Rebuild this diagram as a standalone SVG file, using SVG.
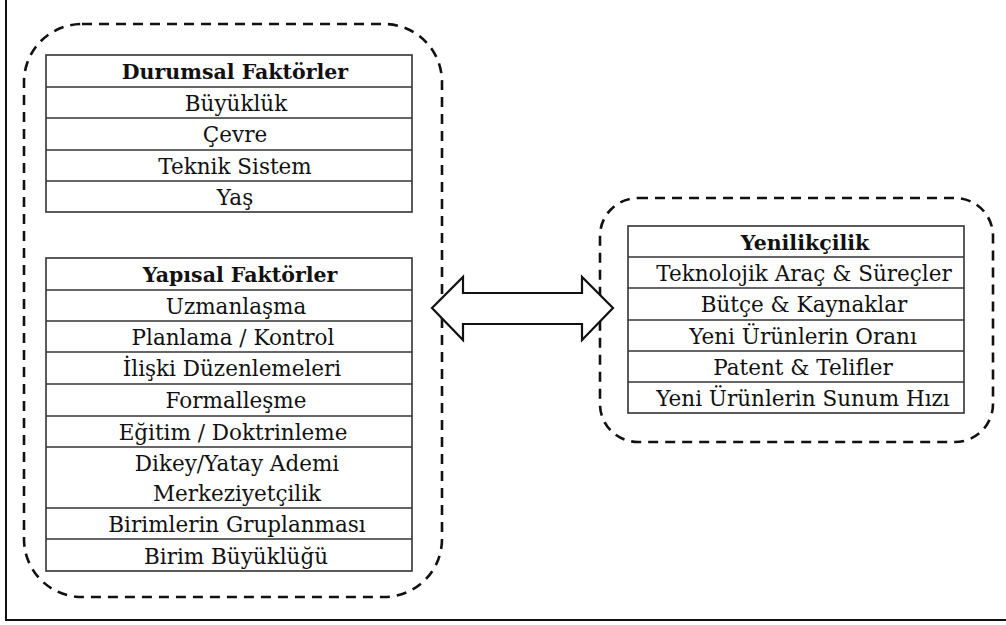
<svg xmlns="http://www.w3.org/2000/svg" width="1006" height="625" viewBox="0 0 1006 625">
<style>
.frame{fill:none;stroke:#111;stroke-width:2}
.dash{fill:none;stroke:#111;stroke-width:2.6;stroke-dasharray:10 7}
.cell{fill:#fff;stroke:#333;stroke-width:1.6}
.ln{stroke:#333;stroke-width:1.6}
.t{font-family:'DejaVu Serif','Liberation Serif',serif;font-size:21.5px;fill:#111;text-anchor:middle}
.b{font-weight:bold;font-size:20.5px}
.arrow{fill:#fff;stroke:#111;stroke-width:2.2;stroke-linejoin:miter}
</style>
<rect width="1006" height="625" fill="#fff"/>
<path class="frame" d="M6,0 V620 H1006"/>

<g id="group-left">
<rect class="dash" x="24" y="24" width="418" height="573" rx="58" ry="58"/>
</g>
<g id="group-right">
<rect class="dash" x="600" y="198" width="393" height="244" rx="38" ry="38"/>
</g>

<g id="durumsal" class="t">
<rect class="cell" x="46" y="55" width="366" height="157"/>
<line class="ln" x1="46" y1="87" x2="412" y2="87"/>
<line class="ln" x1="46" y1="118" x2="412" y2="118"/>
<line class="ln" x1="46" y1="150" x2="412" y2="150"/>
<line class="ln" x1="46" y1="181" x2="412" y2="181"/>
<text class="b" x="235" y="79">Durumsal Faktörler</text>
<text x="236" y="111">Büyüklük</text>
<text x="235" y="142">Çevre</text>
<text x="235" y="174">Teknik Sistem</text>
<text x="235" y="205">Yaş</text>
</g>

<g id="yapisal" class="t">
<rect class="cell" x="46" y="258" width="366" height="313"/>
<line class="ln" x1="46" y1="290" x2="412" y2="290"/>
<line class="ln" x1="46" y1="321" x2="412" y2="321"/>
<line class="ln" x1="46" y1="352" x2="412" y2="352"/>
<line class="ln" x1="46" y1="384" x2="412" y2="384"/>
<line class="ln" x1="46" y1="416" x2="412" y2="416"/>
<line class="ln" x1="46" y1="447" x2="412" y2="447"/>
<line class="ln" x1="46" y1="508" x2="412" y2="508"/>
<line class="ln" x1="46" y1="539" x2="412" y2="539"/>
<text class="b" x="240" y="282">Yapısal Faktörler</text>
<text x="236" y="314">Uzmanlaşma</text>
<text x="233" y="345">Planlama / Kontrol</text>
<text x="232" y="376">İlişki Düzenlemeleri</text>
<text x="236" y="408">Formalleşme</text>
<text x="233" y="440">Eğitim / Doktrinleme</text>
<text x="237" y="471">Dikey/Yatay Ademi</text>
<text x="237" y="501">Merkeziyetçilik</text>
<text x="237" y="532">Birimlerin Gruplanması</text>
<text x="236" y="564">Birim Büyüklüğü</text>
</g>

<g id="yenilikcilik" class="t">
<rect class="cell" x="628" y="226" width="336" height="187"/>
<line class="ln" x1="628" y1="257" x2="964" y2="257"/>
<line class="ln" x1="628" y1="288" x2="964" y2="288"/>
<line class="ln" x1="628" y1="320" x2="964" y2="320"/>
<line class="ln" x1="628" y1="351" x2="964" y2="351"/>
<line class="ln" x1="628" y1="382" x2="964" y2="382"/>
<text class="b" x="805" y="250">Yenilikçilik</text>
<text x="804" y="281">Teknolojik Araç &amp; Süreçler</text>
<text x="804" y="312">Bütçe &amp; Kaynaklar</text>
<text x="803" y="344">Yeni Ürünlerin Oranı</text>
<text x="803" y="375">Patent &amp; Telifler</text>
<text x="803" y="406">Yeni Ürünlerin Sunum Hızı</text>
</g>

<g id="connectors">
<polygon class="arrow" points="432,308 463,277 463,293 582,293 582,277 613,308 582,340 582,324 463,324 463,340"/>
</g>
</svg>
